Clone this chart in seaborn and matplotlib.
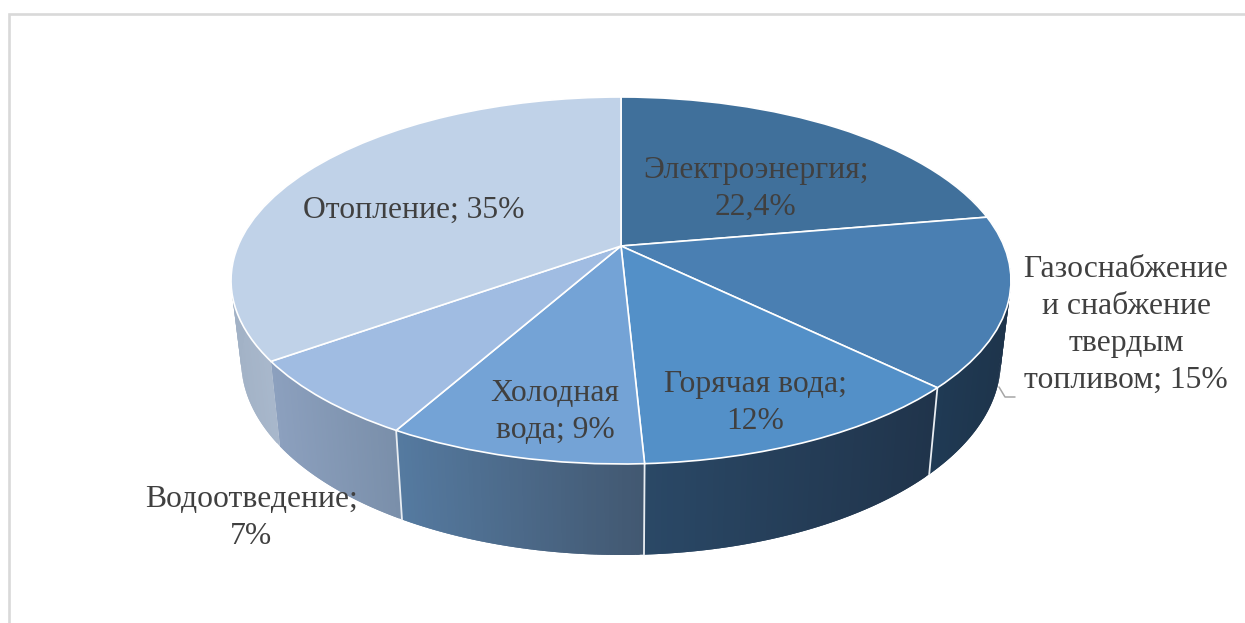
import numpy as np
import matplotlib
matplotlib.use("Agg")
import matplotlib.pyplot as plt
from matplotlib.collections import PolyCollection
from matplotlib.colors import to_rgb
from matplotlib.transforms import Transform
import seaborn as sns

# Structure of municipal utility costs, percent
categories = ["Электроэнергия", "Газоснабжение и снабжение твердым топливом",
              "Горячая вода", "Холодная вода", "Водоотведение", "Отопление"]
values = [22.4, 15, 12, 9, 7, 35]
labels = ["Электроэнергия;\n22,4%", "Газоснабжение\nи снабжение\nтвердым\nтопливом; 15%",
          "Горячая вода;\n12%", "Холодная\nвода; 9%", "Водоотведение;\n7%", "Отопление; 35%"]
label_xy = [(756, 189), (1126, 325), (755, 403), (555, 412), (251, 518), (414, 210)]

top_colors = ["#40709b", "#4a7fb2", "#5390c8", "#74a3d6", "#a0bce2", "#c0d2e8"]
wall_left = ["#1e344b", "#1f3a54", "#2a4866", "#557aa0", "#8ca0be", "#a2b2c6"]
wall_right = ["#1e344b", "#1e344b", "#20344b", "#425871", "#7a8faa", "#aab9cd"]

CX, CY = 621.0, 246.0
SCALE_X, SCALE_Y, TILT = 383.0, 177.0, 0.188


class TiltedDisc(Transform):
    """Projects the unit disc of the pie onto its perspective view."""
    input_dims = 2
    output_dims = 2
    is_separable = False
    has_inverse = False

    def transform_non_affine(self, values):
        values = np.asarray(values, dtype=float)
        u, v = values[:, 0], values[:, 1]
        w = 1 + TILT * v
        return np.column_stack([CX + SCALE_X * u / w, CY - SCALE_Y * v / w])


def ring_top(theta):
    """Rim of the top face for clockwise angles measured from twelve o'clock."""
    pts = np.column_stack([np.sin(theta), np.cos(theta)])
    return TiltedDisc().transform_non_affine(pts)


def ring_bottom(theta):
    """Rim of the base, slightly narrower and lower than the top face."""
    p = ring_top(theta)
    return np.column_stack([CX + 0.974 * (p[:, 0] - CX),
                            p[:, 1] + 85 + (p[:, 1] - 360) * 0.0577])


sns.set_theme(style="white")
plt.rcParams["font.family"] = ["Liberation Serif", "DejaVu Sans"]

fig = plt.figure(figsize=(12.45, 6.23), dpi=100, facecolor="white")
ax = fig.add_axes([0, 0, 1, 1])

# Chart area outline: only the top and left sides are in view
ax.plot([8.5, 8.5, 1245], [623, 13.5, 13.5], color="#d9d9d9", lw=1.9, zorder=1,
        solid_joinstyle="miter")

# Leader line of the gas supply label
ax.plot([999, 1005, 1015], [387, 397, 397], color="#a6a6a6", lw=1.1, zorder=1)

# Side wall: one gradient strip set per slice; each strip overlaps the next
# so no seams show through the antialiasing
edges = 2 * np.pi * np.concatenate([[0], np.cumsum(values)]) / np.sum(values)
for i in range(len(values)):
    a0, a1 = edges[i], edges[i + 1]
    a0, a1 = max(a0, np.radians(70)), min(a1, np.radians(290))
    if a1 <= a0:
        continue
    th = np.linspace(a0, a1, 61)
    top, bot = ring_top(th), ring_bottom(th)
    quads = [[top[j], top[min(j + 2, 60)], bot[min(j + 2, 60)], bot[j]] for j in range(60)]
    x_mid = (top[:-1, 0] + top[1:, 0]) / 2
    x_lo, x_hi = x_mid.min(), x_mid.max()
    t = (x_mid - x_lo) / max(x_hi - x_lo, 1)
    c0, c1 = np.array(to_rgb(wall_left[i])), np.array(to_rgb(wall_right[i]))
    cols = c0[None, :] * (1 - t[:, None]) + c1[None, :] * t[:, None]
    ax.add_collection(PolyCollection(quads, facecolors=cols, edgecolors="none", zorder=2))

# Slice separators on the wall
for a in edges[2:-2]:
    th = np.array([a])
    p, q = ring_top(th)[0], ring_bottom(th)[0]
    ax.plot([p[0], q[0]], [p[1], q[1]], color="#e8edf2", lw=1.3, zorder=3)

# Top face
wedges, _ = ax.pie(values, colors=top_colors, startangle=90, counterclock=False,
                   wedgeprops={"edgecolor": "white", "linewidth": 1.2})
disc = TiltedDisc() + ax.transData
for w in wedges:
    w.set_transform(disc)
    w.set_zorder(4)

for text, (x, y) in zip(labels, label_xy):
    ax.text(x, y, text, ha="center", va="center", multialignment="center",
            fontsize=22.8, color="#404040", linespacing=1.36, zorder=5)

ax.set_aspect("auto")
ax.set_xlim(0, 1245)
ax.set_ylim(623, 0)
ax.set_axis_off()

fig.savefig("out.png", dpi=100, facecolor="white")
